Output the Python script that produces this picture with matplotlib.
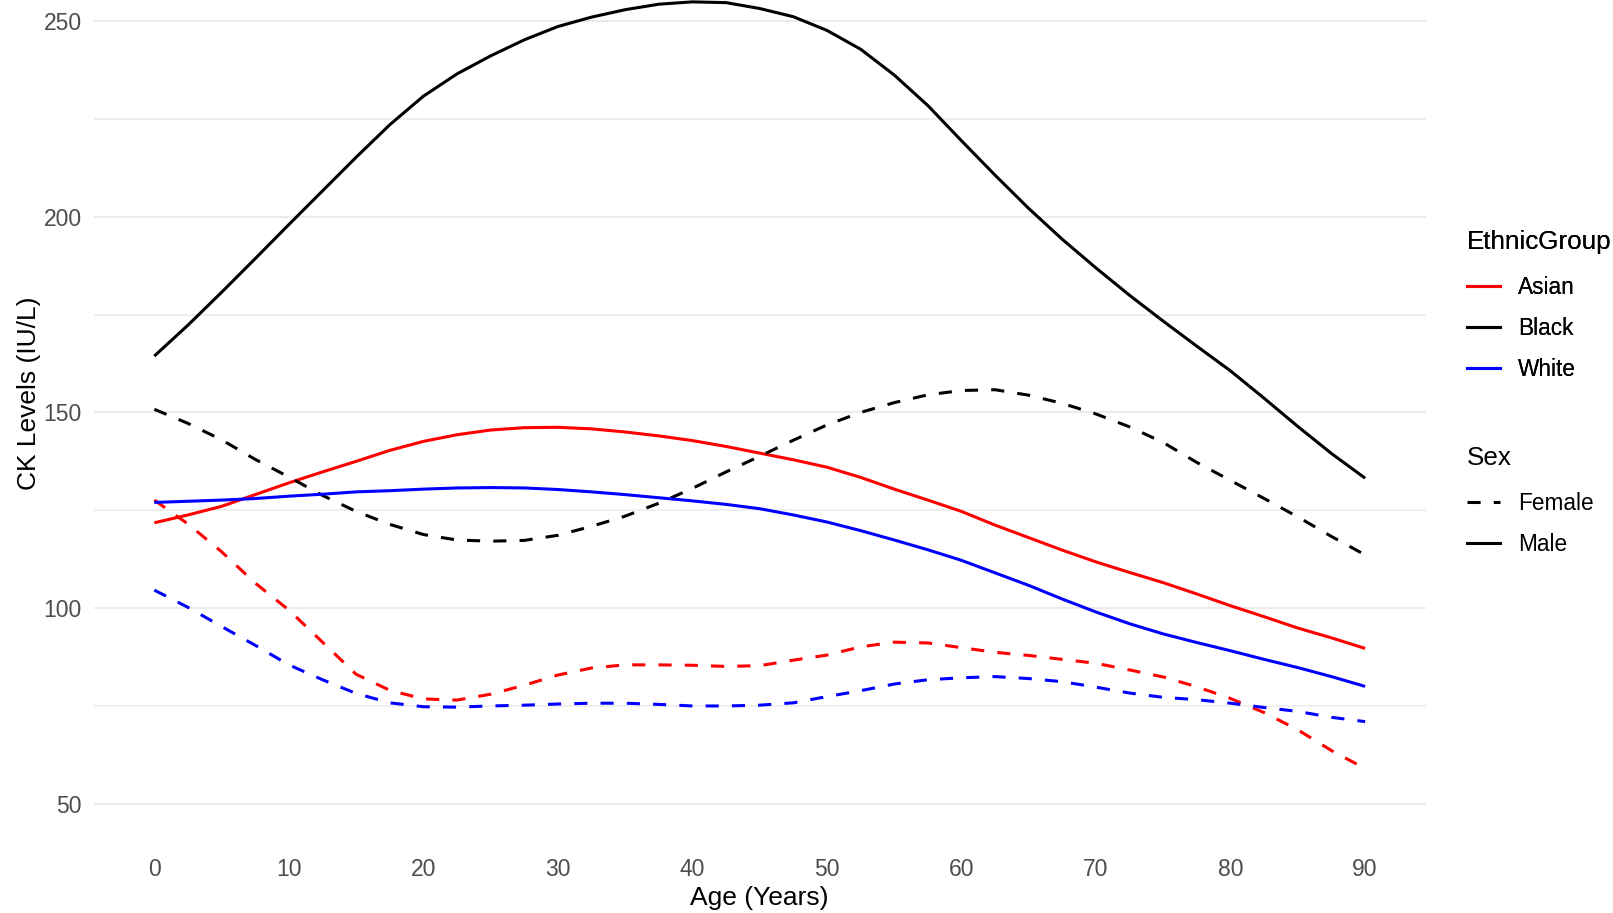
import matplotlib
matplotlib.use('Agg')
import matplotlib.pyplot as plt
from matplotlib.lines import Line2D

# smoothed CK levels by age, one curve per ethnic group and sex
ages = [0, 2.5, 5, 7.5, 10, 12.5, 15, 17.5, 20, 22.5, 25, 27.5, 30, 32.5, 35, 37.5,
        40, 42.5, 45, 47.5, 50, 52.5, 55, 57.5, 60, 62.5, 65, 67.5, 70, 72.5, 75,
        77.5, 80, 82.5, 85, 87.5, 90]

asian_male = [121.8, 123.8, 126.0, 129.0, 132.0, 134.8, 137.5, 140.3, 142.6, 144.3,
              145.5, 146.1, 146.2, 145.8, 145.0, 144.0, 142.8, 141.3, 139.6, 137.9,
              136.0, 133.4, 130.4, 127.6, 124.7, 121.2, 118.0, 114.8, 111.8, 109.1,
              106.5, 103.6, 100.6, 97.8, 94.9, 92.4, 89.7]
asian_female = [127.6, 121.5, 114.4, 106.4, 99.5, 91.3, 83.1, 79.0, 76.8, 76.5,
                78.0, 80.3, 82.9, 84.7, 85.5, 85.5, 85.4, 85.1, 85.3, 86.7,
                88.0, 90.1, 91.3, 91.1, 89.9, 88.7, 87.9, 86.9, 85.9, 84.2,
                82.4, 79.9, 76.9, 73.3, 68.9, 63.6, 59.0]
black_male = [164.4, 172.3, 180.7, 189.3, 198.0, 206.6, 215.2, 223.5, 230.8, 236.5,
              241.1, 245.2, 248.6, 251.0, 252.9, 254.3, 254.9, 254.7, 253.2, 251.1,
              247.6, 242.8, 236.2, 228.4, 219.4, 210.6, 202.1, 194.2, 186.9, 179.9,
              173.3, 166.9, 160.6, 153.6, 146.4, 139.5, 133.2]
black_female = [150.8, 147.2, 143.0, 138.0, 133.5, 128.8, 124.7, 121.4, 118.8, 117.4,
                117.1, 117.3, 118.6, 120.9, 123.5, 126.8, 130.6, 134.8, 138.8, 142.9,
                146.8, 150.0, 152.5, 154.5, 155.6, 155.8, 154.4, 152.3, 149.6, 146.3,
                142.3, 137.2, 132.6, 128.0, 123.3, 118.3, 113.6]
white_male = [127.0, 127.3, 127.6, 128.0, 128.6, 129.1, 129.7, 130.0, 130.4, 130.7,
              130.8, 130.7, 130.3, 129.7, 129.0, 128.2, 127.4, 126.5, 125.4, 123.8,
              122.0, 119.8, 117.4, 114.9, 112.2, 109.0, 105.8, 102.3, 99.0, 96.0,
              93.4, 91.2, 89.1, 86.9, 84.8, 82.5, 80.0]
white_female = [104.6, 100.2, 95.3, 90.5, 85.5, 81.7, 78.2, 75.8, 74.8, 74.7,
                75.0, 75.2, 75.5, 75.7, 75.7, 75.4, 75.0, 75.0, 75.2, 75.8,
                77.4, 78.9, 80.6, 81.7, 82.2, 82.5, 82.0, 81.2, 79.8, 78.3,
                77.2, 76.6, 75.7, 74.6, 73.6, 72.1, 71.0]

groups = ['Asian', 'Black', 'White']
group_colors = {'Asian': 'red', 'Black': 'black', 'White': 'blue'}
sexes = ['Female', 'Male']

x_ticks = [0, 10, 20, 30, 40, 50, 60, 70, 80, 90]
y_ticks = [50, 100, 150, 200, 250]
y_minor = [75, 125, 175, 225]

LW = 2.2
DASH = (4.3, 4.3)


def style_for(sex):
    return dict(linestyle=(0, DASH)) if sex == 'Female' else dict(linestyle='-')


def main():
    plt.rcParams['font.family'] = ['Liberation Sans', 'DejaVu Sans']

    fig = plt.figure(figsize=(16.13, 9.13), dpi=100)
    ax = fig.add_axes([0.05815, 0.0613, 0.8257, 1.0164])

    curves = {
        ('Asian', 'Male'): asian_male,
        ('Asian', 'Female'): asian_female,
        ('Black', 'Male'): black_male,
        ('Black', 'Female'): black_female,
        ('White', 'Male'): white_male,
        ('White', 'Female'): white_female,
    }
    for (grp, sex), vals in curves.items():
        ax.plot(ages, vals, color=group_colors[grp], linewidth=LW,
                solid_capstyle='butt', dash_capstyle='butt', **style_for(sex))

    ax.set_xlim(-4.5, 94.5)
    ax.set_ylim(36.4, 273.5)
    ax.set_xticks(x_ticks)
    ax.set_yticks(y_ticks)
    ax.set_yticks(y_minor, minor=True)
    ax.grid(axis='y', which='major', color='#EBEBEB', linewidth=1.5)
    ax.grid(axis='y', which='minor', color='#EBEBEB', linewidth=1.1)
    ax.grid(axis='x', visible=False)
    ax.set_axisbelow(True)
    for s in ax.spines.values():
        s.set_visible(False)
    ax.tick_params(axis='both', which='both', length=0, labelsize=16.5, labelcolor='#4D4D4D')
    ax.tick_params(axis='x', pad=1.0)
    ax.tick_params(axis='y', pad=8.7)

    ax.set_xlabel('Age (Years)', fontsize=19, labelpad=3.5)
    ax.set_ylabel('CK Levels (IU/L)', fontsize=19, labelpad=2)

    legend_kw = dict(loc='upper left', frameon=False, borderpad=0, borderaxespad=0,
                     handlelength=1.46, handletextpad=0.8, labelspacing=0.785,
                     alignment='left', fontsize=16.3, title_fontsize=18.7)

    color_handles = [Line2D([], [], color=group_colors[g], linewidth=LW) for g in groups]
    leg1 = fig.legend(color_handles, groups, title='EthnicGroup',
                      bbox_to_anchor=(1467 / 1613, 1 - 230 / 913), **legend_kw)

    sex_handles = [Line2D([], [], color='black', linewidth=LW, **style_for(s)) for s in sexes]
    leg2 = fig.legend(sex_handles, sexes, title='Sex',
                      bbox_to_anchor=(1467 / 1613, 1 - 446 / 913), **legend_kw)
    fig.add_artist(leg1)

    # a little more room between each legend title and its keys
    for leg in (leg1, leg2):
        leg._legend_box.sep += 3.3

    fig.savefig('out.png', dpi=100)


if __name__ == '__main__':
    main()
